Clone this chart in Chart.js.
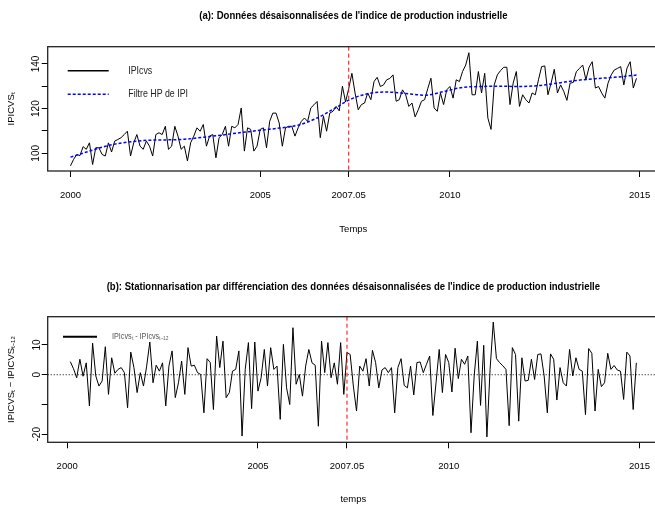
<!DOCTYPE html>
<html>
<head>
<meta charset="utf-8">
<script src="https://cdn.jsdelivr.net/npm/chart.js@4"></script>
<style>
  html, body { margin: 0; padding: 0; background: #fff; }
  #wrap { position: relative; width: 655px; height: 506px; overflow: hidden; }
  .panel { position: absolute; left: 0; width: 680px; }
  #top { top: 0; height: 250px; }
  #bottom { top: 250px; height: 256px; }
</style>
</head>
<body>
<div id="wrap">
  <div class="panel" id="top"><canvas id="chartA"></canvas></div>
  <div class="panel" id="bottom"><canvas id="chartB"></canvas></div>
</div>
<script>
// monthly series, Jan 2000 .. Dec 2014
const startYear = 2000;
const ipiCvs = [
  94.4, 97.3, 99.5, 99, 103, 101.8, 104.7, 95, 102.5, 102.5,
  99.5, 98.8, 104.7, 100.6, 105.5, 106.2, 107, 108.4, 109.9, 98.8,
  104.7, 108.4, 103.2, 101.8, 105.5, 103.2, 98.8, 108.4, 109.2, 108.4,
  112.1, 101.8, 103.2, 112.1, 107.7, 101.8, 103.2, 96.6, 104.7, 107.7,
  111.4, 109.9, 112.9, 103.2, 107.7, 108.4, 98, 107, 108.4, 112.1,
  103.2, 112.1, 111.4, 112.9, 120.3, 101, 111.4, 110.7, 101, 103.2,
  110.7, 111.4, 102.5, 114.3, 118, 118, 113.6, 103.2, 111.4, 112.1,
  112.1, 107.7, 111.4, 114.3, 115.8, 114.3, 120.3, 121.7, 123.2, 107,
  116.6, 109.9, 118, 118.8, 121, 119, 130, 123, 129, 135.8,
  127, 119.5, 121.8, 122.5, 127, 124, 132.1, 134, 129.9, 130.6,
  132.9, 133.5, 135.1, 123.3, 124, 128.4, 126.2, 121, 122.5, 116.3,
  119.5, 123.3, 124, 129, 133.6, 120.3, 118.8, 127, 121.8, 128.4,
  129.9, 124.7, 132.9, 132.1, 136.6, 139.5, 145, 126.2, 126.2, 136.6,
  127, 135.8, 115.8, 110.7, 130.6, 135.1, 137, 138.5, 138.5, 121.8,
  131.4, 136.6, 121, 126.2, 124, 122.5, 127, 126.2, 132.9, 138.8,
  139.1, 126.2, 131.4, 137.6, 127, 130.6, 127.7, 123.7, 131.4, 131.7,
  136.6, 138, 139.5, 132.9, 138.5, 141, 129.2, 129.9, 127, 124.7,
  131.4, 135.1, 137.3, 138, 138.8, 130.6, 138.1, 141, 129.2, 133.6
];

// HP trend (month index from Jan 2000)
const hpMonths = [0, 6, 12, 18, 24, 30, 36, 42, 48, 54, 60, 66, 72, 78, 84, 88,
  94, 100, 106, 112, 118, 124, 130, 136, 142, 148, 154, 160, 166, 172, 179];
const hpValues = [98.3, 101, 103.5, 105, 105.8, 106, 106.3, 107.2, 108.2, 109.3, 110.3, 111.3,
  112.6, 115.8, 120.5, 123.8, 126.7, 127.4, 126.8, 126, 127.6, 129.5, 129.9, 130,
  129.9, 130.3, 131.4, 132.6, 133.4, 134, 135];

// differenced series, Feb 2000 .. Dec 2014
const diffStart = 1;
const ipiDiff = [
  4.4, 2.0, -1.0, 5.2, -0.5, 4.0, -10.5, 10.6, -0.4, -3.8,
  -2.1, 9.4, -6.6, 5.7, 0.5, 1.8, 2.4, 0.7, -11.1, 7.6,
  2.4, -6.0, 0.7, -3.8, 2.9, 11.0, -2.7, 3.2, 1.2, 4.0,
  -10.5, 2.9, 8.0, -7.7, -2.7, 4.6, -6.6, 9.1, 2.9, 3.2,
  0.7, 0.1, -12.8, 5.4, 4.1, -11.7, 13.0, 2.4, 11.3, -7.7,
  -6.0, 1.2, 1.8, 8.0, -20.6, 1.8, 10.8, -11.4, 11.0, -5.5,
  -1.0, 8.5, -3.8, 9.1, 1.8, 2.9, -15.0, 10.2, -4.4, -10.0,
  15.8, -3.2, 0.1, -7.2, 2.9, 8.5, 4.0, 3.2, -17.3, 11.3,
  0.7, 10.8, -1.0, 4.0, -3.2, 10.8, -6.6, 7.5, 6.8, -3.8,
  -12.2, 2.9, 1.2, 5.4, -3.8, 8.2, 4.1, -4.4, 1.6, 2.4,
  0.7, 2.4, -12.8, 2.4, 5.4, -3.6, -4.4, 2.9, -6.8, 4.1,
  4.3, 0.7, 3.5, 6.3, -13.7, -2.7, 8.5, -6.0, 6.8, 4.1,
  -5.8, 8.9, -1.3, 5.2, 3.5, 6.3, -19.5, -0.4, 11.3, -10.3,
  9.9, -20.9, 1.8, 17.7, 5.4, 4.1, 3.0, 1.8, -17.1, 9.1,
  6.8, -15.6, 5.7, -2.1, -1.9, 5.2, -1.6, 6.8, 7.0, -0.4,
  -12.8, 7.0, 5.2, -8.5, 2.4, -2.7, -3.8, 8.5, -0.4, 5.7,
  1.8, 1.2, -13.4, 8.8, 7.2, -12.2, 1.8, -4.0, -2.7, 7.2,
  1.8, 3.1, 1.6, 1.2, -8.3, 7.6, 6.3, -11.7, 4.0
];

const xTickValues = [2000, 2005, 2007 + 4 / 12, 2010, 2015];
const xTickLabels = ['2000', '2005', '2007.05', '2010', '2015'];
const breakDate = 2007 + 4 / 12;
const yLabelsA = [100, 120, 140];
const yLabelsB = [-20, 0, 10];

const FONT = "'Liberation Sans', Arial, sans-serif";

// draw text squeezed horizontally (the original uses a narrow face)
function narrowText(ctx, text, x, y, squeeze, align) {
  ctx.save();
  ctx.translate(x, y);
  ctx.scale(squeeze, 1);
  ctx.textAlign = align;
  ctx.textBaseline = 'middle';
  ctx.fillText(text, 0, 0);
  ctx.restore();
}

const panelDeco = {
  id: 'panelDeco',
  beforeDatasetsDraw(chart, args, opts) {
    if (!opts.zeroLine) return;
    const {ctx, chartArea: a, scales: {y}} = chart;
    const py = y.getPixelForValue(0);
    ctx.save();
    ctx.strokeStyle = '#000';
    ctx.lineWidth = 1;
    ctx.setLineDash([1, 2]);
    ctx.beginPath();
    ctx.moveTo(a.left, py);
    ctx.lineTo(a.right, py);
    ctx.stroke();
    ctx.restore();
  },
  afterDatasetsDraw(chart, args, opts) {
    const {ctx, chartArea: a, scales: {x}} = chart;
    ctx.save();
    // break date
    const bx = x.getPixelForValue(breakDate);
    ctx.strokeStyle = '#ff0000';
    ctx.lineWidth = 1;
    ctx.setLineDash([4, 3]);
    ctx.beginPath();
    ctx.moveTo(bx, a.top);
    ctx.lineTo(bx, a.bottom);
    ctx.stroke();
    // box
    ctx.setLineDash([]);
    ctx.strokeStyle = '#222';
    ctx.lineWidth = 1.3;
    ctx.strokeRect(a.left, a.top, a.right - a.left, a.bottom - a.top);
    // legend
    opts.legend.forEach(item => {
      const ds = chart.data.datasets[item.ds];
      const ly = a.top + item.dy;
      ctx.strokeStyle = ds.borderColor;
      ctx.lineWidth = item.width || ds.borderWidth;
      ctx.setLineDash(ds.borderDash || []);
      ctx.beginPath();
      ctx.moveTo(a.left + opts.legendX[0], ly);
      ctx.lineTo(a.left + opts.legendX[1], ly);
      ctx.stroke();
      ctx.fillStyle = opts.legendColor;
      ctx.font = opts.legendFont + 'px ' + FONT;
      narrowText(ctx, ds.label, a.left + opts.legendX[2], ly, 0.8, 'left');
    });
    // title
    ctx.fillStyle = '#000';
    ctx.font = 'bold 11.5px ' + FONT;
    narrowText(ctx, opts.title, (a.left + a.right) / 2, opts.titleY, 0.83, 'center');
    ctx.restore();
  }
};

function xScale(min, axisHeight, tickPad, titlePad, title) {
  return {
    type: 'linear',
    min: min,
    max: 2015.51,
    afterBuildTicks: s => { s.ticks = xTickValues.map(v => ({value: v})); },
    afterFit: s => { s.height = axisHeight; },
    border: {display: false},
    grid: {drawOnChartArea: false, drawTicks: true, tickLength: 6, tickColor: '#000'},
    ticks: {
      autoSkip: false, maxRotation: 0, padding: tickPad, color: '#000',
      font: {family: FONT, size: 9.5},
      callback: (v, i) => xTickLabels[i]
    },
    title: {display: true, text: title, color: '#000', font: {family: FONT, size: 9.5},
      padding: {top: 0, bottom: titlePad}}
  };
}

function yScale(min, max, shown, title) {
  return {
    min: min,
    max: max,
    afterFit: s => { s.width = 47.7; },
    border: {display: false},
    grid: {drawOnChartArea: false, drawTicks: true, tickLength: 6, tickColor: '#000'},
    ticks: {
      stepSize: 10, includeBounds: false, minRotation: 90, maxRotation: 90,
      crossAlign: 'center', padding: -3, color: '#000',
      font: {family: FONT, size: 10},
      callback: v => shown.includes(v) ? String(v) : ''
    },
    title: {display: true, text: title, color: '#000', font: {family: FONT, size: 9.5},
      padding: {top: 6, bottom: 0}}
  };
}

new Chart(document.getElementById('chartA'), {
  type: 'line',
  data: {
    datasets: [
      {
        label: 'IPIcvs',
        data: ipiCvs.map((v, i) => ({x: startYear + i / 12, y: v})),
        borderColor: '#000',
        borderWidth: 1,
        pointRadius: 0,
        tension: 0,
        order: 1
      },
      {
        label: 'Filtre HP de IPI',
        data: hpMonths.map((m, k) => ({x: startYear + m / 12, y: hpValues[k]})),
        borderColor: '#0000ff',
        borderWidth: 1.5,
        borderDash: [3, 2],
        pointRadius: 0,
        cubicInterpolationMode: 'monotone',
        order: 0
      }
    ]
  },
  options: {
    responsive: true,
    maintainAspectRatio: false,
    animation: false,
    devicePixelRatio: 1,
    layout: {padding: {top: 46.7, right: 21, bottom: 0, left: 0}},
    scales: {
      x: xScale(1999.40, 79, 13, 15, 'Temps'),
      y: yScale(92.1, 147.7, yLabelsA, 'IPICVS\u209C')
    },
    plugins: {
      legend: {display: false},
      tooltip: {enabled: false},
      panelDeco: {
        title: "(a): Données désaisonnalisées de l'indice de production industrielle",
        titleY: 16,
        legend: [{ds: 0, dy: 24, width: 1.5}, {ds: 1, dy: 47.6}],
        legendX: [20, 61, 80.6],
        legendFont: 11,
        legendColor: '#222'
      }
    }
  },
  plugins: [panelDeco]
});

new Chart(document.getElementById('chartB'), {
  type: 'line',
  data: {
    datasets: [
      {
        label: 'IPIcvs\u209C - IPIcvs\u209C\u208B\u2081\u2082',
        data: ipiDiff.map((v, i) => ({x: startYear + (i + diffStart) / 12, y: v})),
        borderColor: '#000',
        borderWidth: 1,
        pointRadius: 0,
        tension: 0
      }
    ]
  },
  options: {
    responsive: true,
    maintainAspectRatio: false,
    animation: false,
    devicePixelRatio: 1,
    layout: {padding: {top: 66.7, right: 21, bottom: 0, left: 0}},
    scales: {
      x: xScale(1999.49, 63.7, 12.4, 1, 'temps'),
      y: yScale(-22.7, 19.5, yLabelsB, 'IPICVS\u209C \u2212 IPICVS\u209C\u208B\u2081\u2082')
    },
    plugins: {
      legend: {display: false},
      tooltip: {enabled: false},
      panelDeco: {
        title: "(b): Stationnarisation par différenciation des données désaisonnalisées de l'indice de production industrielle",
        titleY: 37,
        zeroLine: true,
        legend: [{ds: 0, dy: 20, width: 2}],
        legendX: [15.3, 49.3, 64.3],
        legendFont: 9,
        legendColor: '#555'
      }
    }
  },
  plugins: [panelDeco]
});
</script>
</body>
</html>
